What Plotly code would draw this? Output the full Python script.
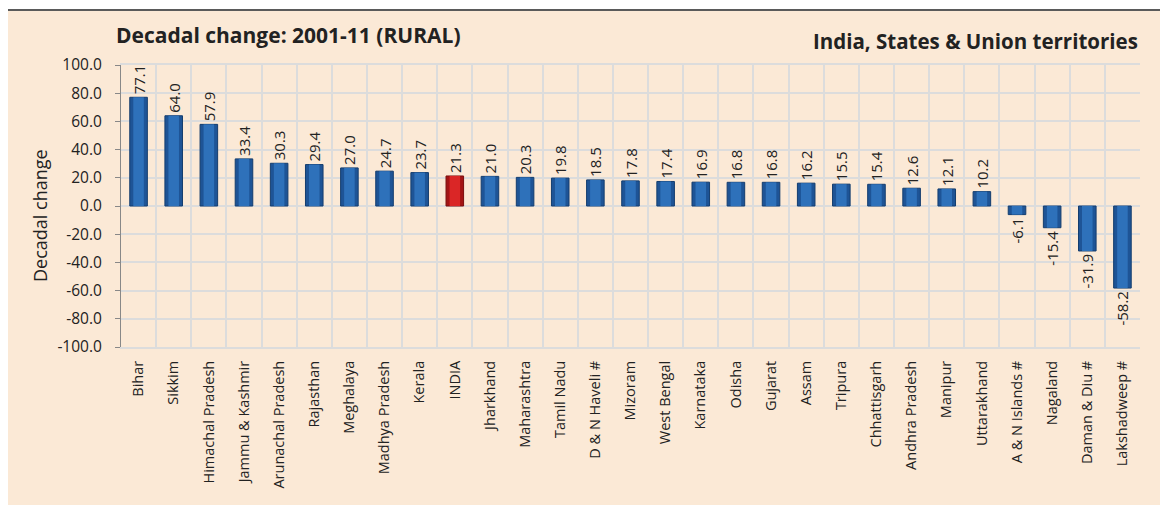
import plotly.graph_objects as go

categories = ["Bihar", "Sikkim", "Himachal Pradesh", "Jammu & Kashmir", "Arunachal Pradesh",
              "Rajasthan", "Meghalaya", "Madhya Pradesh", "Kerala", "INDIA", "Jharkhand",
              "Maharashtra", "Tamil Nadu", "D & N Haveli #", "Mizoram", "West Bengal",
              "Karnataka", "Odisha", "Gujarat", "Assam", "Tripura", "Chhattisgarh",
              "Andhra Pradesh", "Manipur", "Uttarakhand", "A & N Islands #", "Nagaland",
              "Daman & Diu #", "Lakshadweep #"]
values = [77.1, 64.0, 57.9, 33.4, 30.3, 29.4, 27.0, 24.7, 23.7, 21.3, 21.0, 20.3, 19.8,
          18.5, 17.8, 17.4, 16.9, 16.8, 16.8, 16.2, 15.5, 15.4, 12.6, 12.1, 10.2,
          -6.1, -15.4, -31.9, -58.2]
tick_vals = [-100, -80, -60, -40, -20, 0, 20, 40, 60, 80, 100]
tick_text = ["-100.0", "-80.0", "-60.0", "-40.0", "-20.0", "0.0", "20.0", "40.0", "60.0", "80.0", "100.0"]

FONT = "Open Sans"
outer = ["#A31414" if c == "INDIA" else "#1E5496" for c in categories]
inner = ["#DA2626" if c == "INDIA" else "#2E71BA" for c in categories]
edge = ["#7A0E0E" if c == "INDIA" else "#143D6E" for c in categories]

fig = go.Figure()
fig.add_trace(go.Bar(
    x=categories, y=values,
    marker=dict(color=outer, line=dict(color=edge, width=1)),
    width=0.5,
    text=[f"{v:.1f}" for v in values],
    textposition="outside", textangle=-90, constraintext="none",
    textfont=dict(family=FONT, size=15, color="#222222"),
    cliponaxis=False, hoverinfo="skip",
))
fig.add_trace(go.Bar(
    x=categories, y=values,
    marker=dict(color=inner, line=dict(width=0)),
    width=0.3, hoverinfo="skip",
))

OFF = 8  # page offset of the rendered figure
L, T = 121 - OFF, 65 - OFF
PW, PH = 1019, 282
W, H = 1168, 505
R = W - L - PW
B = H - T - PH

def px(x):
    return (x - OFF - L) / PW

def py(y):
    return (T + PH - (y - OFF)) / PH

fig.add_shape(type="rect", xref="paper", yref="paper",
              x0=px(7), x1=px(1180), y0=py(10), y1=py(520),
              fillcolor="#FBE9D6", line=dict(color="#5A5A5A", width=2), layer="below")

fig.add_annotation(text="<b>Decadal change: 2001-11 (RURAL)</b>", xref="paper", yref="paper",
                   x=px(114), y=py(35), xanchor="left", yanchor="middle", showarrow=False,
                   font=dict(family=FONT, size=21, color="#222222"))
fig.add_annotation(text="<b>India, States & Union territories</b>", xref="paper", yref="paper",
                   x=px(1140), y=py(41), xanchor="right", yanchor="middle", showarrow=False,
                   font=dict(family=FONT, size=20.5, color="#222222"))
fig.add_annotation(text="Decadal change", xref="paper", yref="paper",
                   x=px(40), y=py(216), xanchor="center", yanchor="middle", showarrow=False,
                   textangle=-90, font=dict(family=FONT, size=18, color="#222222"))

fig.update_layout(
    width=W, height=H,
    margin=dict(l=L, r=R, t=T, b=B, pad=0),
    paper_bgcolor="white", plot_bgcolor="white",
    showlegend=False, barmode="overlay",
)
fig.update_xaxes(
    type="category", tickson="boundaries", showgrid=True, gridcolor="#DCDCDC", gridwidth=2,
    tickangle=-90, tickfont=dict(family=FONT, size=14.5, color="#222222"),
    showline=True, linecolor="#DCDCDC", linewidth=2, mirror=True, ticks="",
    ticklabelstandoff=6,
)
fig.update_yaxes(
    range=[-100, 100], tickvals=tick_vals, ticktext=tick_text,
    showgrid=True, gridcolor="#DCDCDC", gridwidth=2, zeroline=False,
    tickfont=dict(family=FONT, size=15.5, color="#222222"),
    ticks="outside", ticklen=5, tickcolor="#888888",
    showline=True, linecolor="#888888", linewidth=1,
    ticklabelstandoff=10,
)

fig.write_html("out.html")
